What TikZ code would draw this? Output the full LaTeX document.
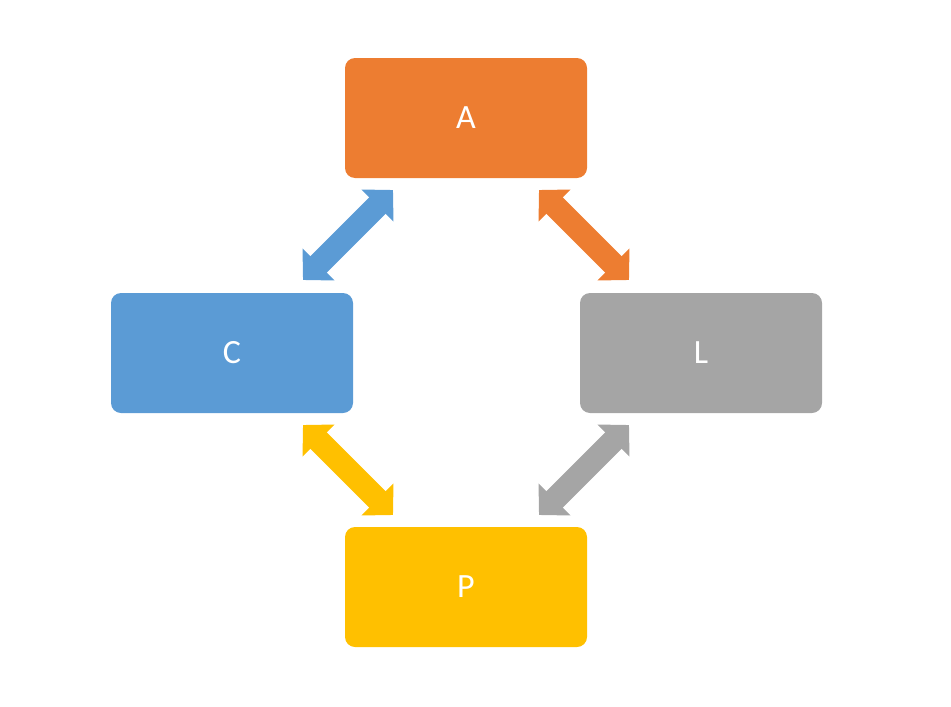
\documentclass[tikz,border=0pt]{standalone}
\usepackage{fontspec}
\setmainfont{Carlito}
\usetikzlibrary{arrows.meta}
\definecolor{cA}{HTML}{ED7D31}
\definecolor{cC}{HTML}{5B9BD5}
\definecolor{cL}{HTML}{A5A5A5}
\definecolor{cP}{HTML}{FFC000}
\begin{document}
\begin{tikzpicture}[x=1pt,y=-1pt,
  box/.style={rounded corners=10pt,minimum width=242pt,minimum height=120pt,inner sep=0pt,
    text=white,font=\fontsize{34}{40}\selectfont},
  dbl/.style={line width=23pt,{Triangle[width=44pt,length=22pt]}-{Triangle[width=44pt,length=22pt]}}]
\useasboundingbox (0,0) rectangle (951,707);
\node[box,fill=cA] (A) at (466,118) {A};
\node[box,fill=cC] (C) at (232,353) {C};
\node[box,fill=cL] (L) at (701,353) {L};
\node[box,fill=cP] (P) at (466,587) {P};
\coordinate (ca1) at (393,190);
\coordinate (ca2) at (303,280);
\coordinate (la1) at (539,190);
\coordinate (la2) at (629,280);
\coordinate (cp1) at (303,425);
\coordinate (cp2) at (393,515);
\coordinate (lp1) at (629,425);
\coordinate (lp2) at (539,515);
\draw[dbl,cC] (ca2) -- (ca1);
\draw[dbl,cA] (la1) -- (la2);
\draw[dbl,cP] (cp1) -- (cp2);
\draw[dbl,cL] (lp1) -- (lp2);
\end{tikzpicture}
\end{document}
